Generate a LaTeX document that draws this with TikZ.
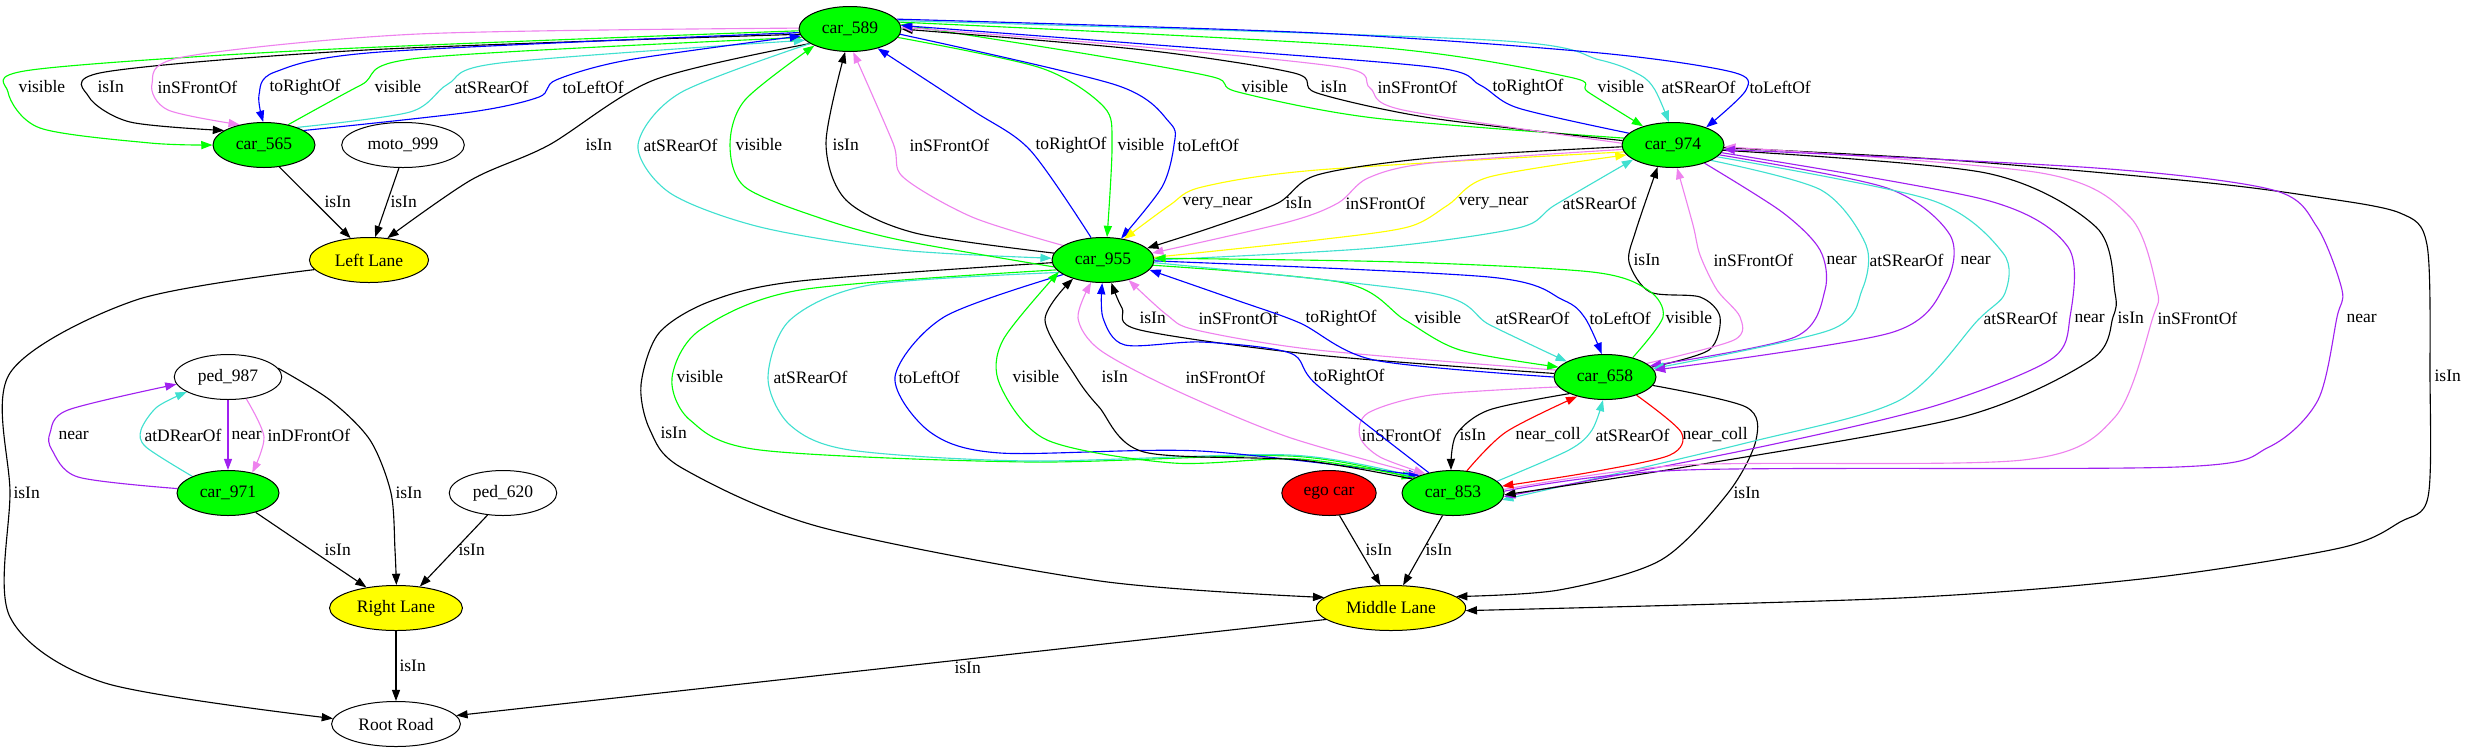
\documentclass[tikz,border=0pt]{standalone}
\usepackage{fontspec}
\setmainfont{Liberation Serif}
\usetikzlibrary{shapes.geometric, arrows.meta, backgrounds}
\definecolor{gvgreen}{HTML}{00FF00}
\definecolor{gvyellow}{HTML}{FFFF00}
\definecolor{gvred}{HTML}{FF0000}
\definecolor{gvblue}{HTML}{0000FF}
\definecolor{gvviolet}{HTML}{EE82EE}
\definecolor{gvturq}{HTML}{40E0D0}
\definecolor{gvpurple}{HTML}{A020F0}
\begin{document}
\begin{tikzpicture}[x=0.8pt, y=-0.8pt,
  every node/.style={font=\fontsize{14}{16}\selectfont},
  obj/.style={draw, ellipse, fill=white, line width=0.8pt, minimum height=36pt, inner xsep=6.3pt, inner ysep=0pt},
  car/.style={obj, fill=gvgreen},
  lane/.style={obj, fill=gvyellow},
  lbl/.style={anchor=west, inner sep=0pt, text=black},
  rel/.style={line width=0.9pt, -{Triangle[length=9pt, width=6.5pt]}},
  isin/.style={rel, black}, vis/.style={rel, gvgreen}, sfront/.style={rel, gvviolet},
  rightof/.style={rel, gvblue}, leftof/.style={rel, gvblue}, srear/.style={rel, gvturq},
  nearby/.style={rel, gvpurple}, vnear/.style={rel, gvyellow}, ncoll/.style={rel, gvred},
  drear/.style={rel, gvturq}, dfront/.style={rel, gvviolet}]
  \useasboundingbox (0,0) rectangle (2465,755);

  % Objects
  \node[car] (car589) at (850,29) {car\_589};
  \node[car] (car565) at (264,145) {car\_565};
  \node[obj] (moto999) at (403,145) {moto\_999};
  \node[car] (car974) at (1673,145) {car\_974};
  \node[lane] (leftlane) at (369,260) {Left Lane};
  \node[car] (car955) at (1103,260) {car\_955};
  \node[car] (car658) at (1605,377) {car\_658};
  \node[obj] (ped987) at (228,377) {ped\_987};
  \node[car] (car971) at (228,493) {car\_971};
  \node[obj] (ped620) at (503,493) {ped\_620};
  \node[obj, fill=gvred] (ego) at (1329,493) {ego car};
  \node[car] (car853) at (1453,493) {car\_853};
  \node[lane] (rightlane) at (396,608) {Right Lane};
  \node[lane] (midlane) at (1391,608) {Middle Lane};
  \node[obj] (rootroad) at (396,724) {Root Road};

  \begin{pgfonlayer}{background}
  % car_589 <-> car_565
  \draw[vis] plot[smooth] coordinates {(car589.182) (314,50) (31,70) (8,92) (40,128) (150,143) (car565.west)} node[lbl] at (18,87) {visible};
  \draw[isin] plot[smooth] coordinates {(car589.186) (366,50) (105,72) (89,97) (130,122) (car565.160)} node[lbl] at (97,87) {isIn};
  \draw[sfront] plot[smooth] coordinates {(car589.179) (418,34) (183,57) (152,84) (168,110) (car565.140)} node[lbl] at (157,87) {inSFrontOf};
  \draw[rightof] plot[smooth] coordinates {(car589.184) (380,52) (275,72) (259,95) (car565.92)} node[lbl] at (269,87) {toRightOf};
  \draw[vis] plot[smooth] coordinates {(car565.40) (361,85) (420,58) (car589.190)} node[lbl] at (374,87) {visible};
  \draw[srear] plot[smooth] coordinates {(car565.28) (410,112) (448,84) (500,63) (car589.194)} node[lbl] at (454,87) {atSRearOf};
  \draw[leftof] plot[smooth] coordinates {(car565.20) (471,112) (539,97) (556,80) (628,60) (car589.188)} node[lbl] at (562,87) {toLeftOf};

  % Left Lane
  \draw[isin] plot[smooth] coordinates {(car589.200) (654,80) (549,145) (471,180) (leftlane.50)} node[lbl] at (585,145) {isIn};
  \draw[isin] (car565.-55) -- (leftlane.130) node[lbl] at (324,202) {isIn};
  \draw[isin] (moto999.-100) -- (leftlane.75) node[lbl] at (390,202) {isIn};
  \draw[isin] plot[smooth] coordinates {(leftlane.190) (136,300) (10,373) (10,493) (10,617) (105,683) (rootroad.175)} node[lbl] at (13,493) {isIn};

  % ped_987, car_971, ped_620
  \draw[nearby] plot[smooth] coordinates {(car971.175) (78,477) (52,450) (50,433) (68,410) (ped987.188)} node[lbl] at (58,435) {near};
  \draw[drear] plot[smooth] coordinates {(car971.155) (146,447) (141,430) (157,407) (ped987.200)} node[lbl] at (144,435) {atDRearOf};
  \draw[nearby] (ped987.south) -- (car971.north) node[lbl] at (231,435) {near};
  \draw[dfront] plot[smooth] coordinates {(ped987.-50) (264,437) (car971.40)} node[lbl] at (267,435) {inDFrontOf};
  \draw[isin] plot[smooth] coordinates {(ped987.10) (330,400) (370,440) (391,493) (395,550) (rightlane.89)} node[lbl] at (395,493) {isIn};
  \draw[isin] (car971.-35) -- (rightlane.145) node[lbl] at (324,550) {isIn};
  \draw[isin] (ped620.-125) -- (rightlane.42) node[lbl] at (458,550) {isIn};
  \draw[isin] (rightlane.south) -- (rootroad.north) node[lbl] at (399,666) {isIn};

  % Middle Lane
  \draw[isin] (ego.-65) -- (midlane.115) node[lbl] at (1365,550) {isIn};
  \draw[isin] (car853.-115) -- (midlane.62) node[lbl] at (1425,550) {isIn};
  \draw[isin] (midlane.190) -- (rootroad.8) node[lbl] at (954,668) {isIn};
  \draw[isin] plot[smooth] coordinates {(car955.183) (800,281) (711,301) (659,333) (641,385) (650,430) (682,468) (820,527) (1100,581) (midlane.171)} node[lbl] at (660,433) {isIn};
  \draw[isin] plot[smooth] coordinates {(car658.-10) (1746,407) (1756,440) (1728,493) (1661,560) (1559,590) (midlane.10)} node[lbl] at (1733,493) {isIn};
  \draw[isin] plot[smooth] coordinates {(car974.-3) (1950,160) (2200,182) (2317,197) (2400,213) (2427,245) (2430,377) (2428,497) (2400,522) (2340,548) (2150,578) (1900,598) (midlane.-2)} node[lbl] at (2434,376) {isIn};

  % car_589 <-> car_955
  \draw[isin] plot[smooth] coordinates {(car955.172) (915,233) (846,200) (826,143) (car589.-102)} node[lbl] at (832,145) {isIn};
  \draw[sfront] plot[smooth] coordinates {(car955.160) (972,217) (903,177) (893,143) (car589.-82)} node[lbl] at (909,145) {inSFrontOf};
  \draw[rightof] plot[smooth] coordinates {(car955.118) (1030,150) (972,110) (car589.-35)} node[lbl] at (1035,145) {toRightOf};
  \draw[vis] plot[smooth] coordinates {(car589.-10) (1041,68) (1104,107) (1112,145) (car955.80)} node[lbl] at (1117,145) {visible};
  \draw[leftof] plot[smooth] coordinates {(car589.-6) (1116,85) (1170,123) (1174,145) (1162,187) (car955.50)} node[lbl] at (1177,145) {toLeftOf};
  \draw[srear] plot[smooth] coordinates {(car589.200) (680,93) (638,145) (670,193) (760,227) (900,250) (car955.178)} node[lbl] at (643,145) {atSRearOf};
  \draw[vis] plot[smooth] coordinates {(car955.188) (900,240) (820,218) (745,187) (730,145) (745,100) (car589.-155)} node[lbl] at (735,145) {visible};

  % car_589 <-> car_974
  \draw[vis] plot[smooth] coordinates {(car974.172) (1374,118) (1238,92) (1213,77) (1087,54) (car589.5)} node[lbl] at (1241,87) {visible};
  \draw[isin] plot[smooth] coordinates {(car974.175) (1431,118) (1317,93) (1294,73) (1144,50) (car589.0)} node[lbl] at (1320,87) {isIn};
  \draw[sfront] plot[smooth] coordinates {(car974.178) (1403,110) (1370,88) (1345,68) (1144,47) (car589.2)} node[lbl] at (1377,87) {inSFrontOf};
  \draw[rightof] plot[smooth] coordinates {(car974.165) (1518,108) (1480,85) (1431,67) (1144,44) (car589.4)} node[lbl] at (1492,87) {toRightOf};
  \draw[vis] plot[smooth] coordinates {(car589.8) (1374,47) (1569,77) (1588,92) (car974.148)} node[lbl] at (1597,87) {visible};
  \draw[srear] plot[smooth] coordinates {(car589.10) (1489,40) (1600,60) (1640,75) (1655,90) (car974.100)} node[lbl] at (1661,87) {atSRearOf};
  \draw[leftof] plot[smooth] coordinates {(car589.12) (1317,33) (1600,53) (1732,72) (1746,90) (car974.28)} node[lbl] at (1749,87) {toLeftOf};

  % car_974 <-> car_955
  \draw[vnear] plot[smooth] coordinates {(car974.188) (1317,170) (1202,187) (1170,205) (car955.45)} node[lbl] at (1182,203) {very\_near};
  \draw[isin] plot[smooth] coordinates {(car974.182) (1431,158) (1317,175) (1278,203) (1213,227) (car955.15)} node[lbl] at (1285,203) {isIn};
  \draw[sfront] plot[smooth] coordinates {(car974.185) (1431,163) (1368,178) (1338,203) (1288,222) (car955.8)} node[lbl] at (1345,203) {inSFrontOf};
  \draw[vnear] plot[smooth] coordinates {(car955.3) (1317,240) (1408,227) (1448,205) (1489,177) (car974.192)} node[lbl] at (1458,203) {very\_near};
  \draw[srear] plot[smooth] coordinates {(car955.0) (1374,248) (1518,228) (1555,205) (car974.-160)} node[lbl] at (1562,203) {atSRearOf};

  % car_974 <-> car_658
  \draw[isin] plot[smooth] coordinates {(car658.12) (1709,350) (1720,317) (1700,297) (1650,292) (1629,262) (1636,230) (car974.-125)} node[lbl] at (1633,260) {isIn};
  \draw[sfront] plot[smooth] coordinates {(car658.18) (1734,340) (1740,317) (1717,290) (1700,255) (1693,225) (car974.-80)} node[lbl] at (1713,260) {inSFrontOf};
  \draw[nearby] plot[smooth] coordinates {(car974.-30) (1782,212) (1820,250) (1825,290) (1795,337) (car658.14)} node[lbl] at (1826,260) {near};
  \draw[srear] plot[smooth] coordinates {(car974.-22) (1821,190) (1866,245) (1862,290) (1830,330) (car658.10)} node[lbl] at (1869,260) {atSRearOf};
  \draw[nearby] plot[smooth] coordinates {(car974.-12) (1887,188) (1950,235) (1945,285) (1890,333) (car658.8)} node[lbl] at (1960,260) {near};

  % car_974 <-> car_853
  \draw[srear] plot[smooth] coordinates {(car974.-15) (1931,200) (2003,253) (2005,293) (1978,320) (1900,400) (1746,443) (car853.-8)} node[lbl] at (1983,318) {atSRearOf};
  \draw[nearby] plot[smooth] coordinates {(car974.-9) (1986,200) (2068,247) (2070,317) (2050,360) (1931,407) (1746,450) (car853.-4)} node[lbl] at (2074,318) {near};
  \draw[isin] plot[smooth] coordinates {(car974.-6) (1986,173) (2096,227) (2115,293) (2113,317) (2091,360) (1962,417) (1685,467) (car853.-2)} node[lbl] at (2117,318) {isIn};
  \draw[sfront] plot[smooth] coordinates {(car853.4) (1685,465) (2023,460) (2115,417) (2153,317) (2157,290) (2130,217) (2041,173) (car974.-2)} node[lbl] at (2157,318) {inSFrontOf};
  \draw[nearby] plot[smooth] coordinates {(car853.2) (1685,470) (2177,467) (2269,447) (2318,400) (2337,317) (2342,290) (2317,227) (2273,190) (2096,168) (car974.-5)} node[lbl] at (2346,318) {near};

  % car_955 <-> car_658
  \draw[isin] plot[smooth] coordinates {(car658.176) (1317,355) (1140,330) (1122,308) (car955.-70)} node[lbl] at (1139,318) {isIn};
  \draw[sfront] plot[smooth] coordinates {(car658.172) (1317,350) (1196,330) (1167,315) (car955.-38)} node[lbl] at (1198,318) {inSFrontOf};
  \draw[rightof] plot[smooth] coordinates {(car658.180) (1374,360) (1300,323) (1236,300) (car955.-12)} node[lbl] at (1305,318) {toRightOf};
  \draw[vis] plot[smooth] coordinates {(car955.-6) (1345,283) (1405,320) (1460,350) (car658.168)} node[lbl] at (1414,318) {visible};
  \draw[srear] plot[smooth] coordinates {(car955.-3) (1431,293) (1490,325) (car658.158)} node[lbl] at (1495,318) {atSRearOf};
  \draw[leftof] plot[smooth] coordinates {(car955.-1) (1489,277) (1563,300) (1585,318) (car658.98)} node[lbl] at (1589,318) {toLeftOf};
  \draw[vis] plot[smooth] coordinates {(car658.35) (1663,317) (1648,290) (1592,272) (1400,262) (car955.2)} node[lbl] at (1665,318) {visible};

  % car_658 <-> car_853
  \draw[sfront] plot[smooth] coordinates {(car658.192) (1431,395) (1368,413) (1360,437) (1380,457) (car853.145)} node[lbl] at (1361,435) {inSFrontOf};
  \draw[isin] plot[smooth] coordinates {(car658.-155) (1489,410) (1456,435) (car853.95)} node[lbl] at (1459,435) {isIn};
  \draw[ncoll] plot[smooth] coordinates {(car853.58) (1506,432) (car658.-145)} node[lbl] at (1515,435) {near\_coll};
  \draw[srear] plot[smooth] coordinates {(car853.15) (1569,450) (1592,430) (car658.-95)} node[lbl] at (1595,435) {atSRearOf};
  \draw[ncoll] plot[smooth] coordinates {(car658.-30) (1681,432) (1670,455) (1592,472) (car853.8)} node[lbl] at (1682,435) {near\_coll};

  % car_955 <-> car_853
  \draw[vis] plot[smooth] coordinates {(car955.192) (800,290) (700,330) (672,378) (690,420) (760,450) (1030,462) (1290,456) (car853.160)} node[lbl] at (676,377) {visible};
  \draw[srear] plot[smooth] coordinates {(car955.196) (870,285) (790,320) (768,378) (790,425) (850,450) (1030,461) (1290,455) (car853.157)} node[lbl] at (773,377) {atSRearOf};
  \draw[leftof] plot[smooth] coordinates {(car955.200) (944,317) (895,377) (930,432) (1000,453) (1200,451) (car853.152)} node[lbl] at (898,377) {toLeftOf};
  \draw[vis] plot[smooth] coordinates {(car853.158) (1300,459) (1173,463) (1047,440) (1000,385) (1003,340) (car955.-165)} node[lbl] at (1012,377) {visible};
  \draw[isin] plot[smooth] coordinates {(car853.161) (1300,460) (1144,452) (1099,407) (1076,377) (1045,320) (car955.-148)} node[lbl] at (1101,377) {isIn};
  \draw[sfront] plot[smooth] coordinates {(car853.150) (1288,437) (1175,390) (1100,350) (1078,318) (car955.-118)} node[lbl] at (1185,377) {inSFrontOf};
  \draw[rightof] plot[smooth] coordinates {(car853.140) (1317,385) (1290,353) (1202,342) (1125,345) (1103,318) (car955.-92)} node[lbl] at (1313,377) {toRightOf};
  \end{pgfonlayer}
\end{tikzpicture}
\end{document}
